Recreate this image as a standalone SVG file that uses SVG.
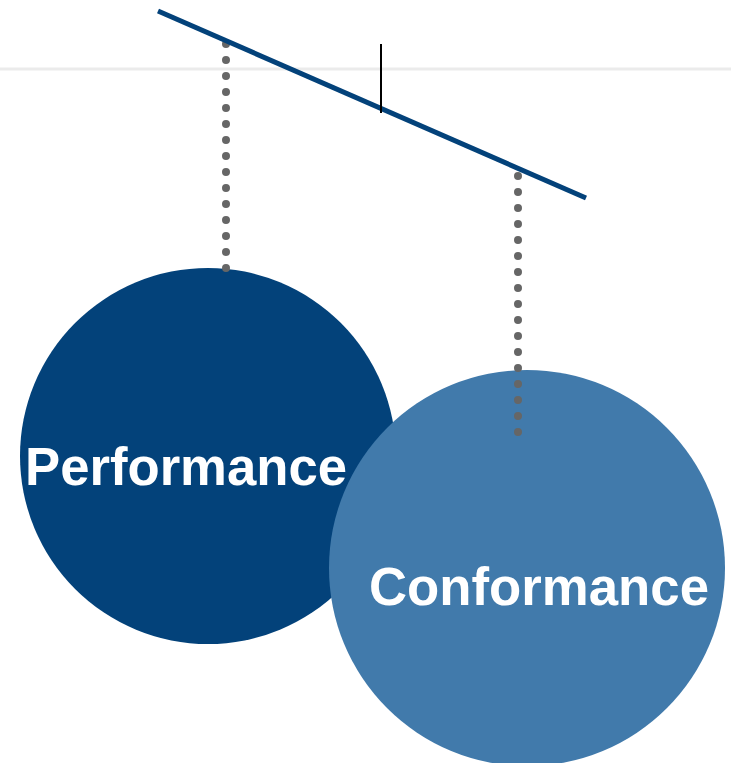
<svg xmlns="http://www.w3.org/2000/svg" width="731" height="763" viewBox="0 0 731 763">
<style>
.lbl{font-family:"Liberation Sans",Arial,sans-serif;font-weight:bold;font-size:53px;fill:#ffffff}
.dots{stroke:#666666;stroke-width:8;stroke-linecap:round;stroke-dasharray:0 16;fill:none}
</style>
<rect width="731" height="763" fill="#ffffff"/>
<line x1="0" y1="69" x2="731" y2="69" stroke="#ebebeb" stroke-width="3"/>
<g id="performance">
<circle cx="208" cy="456" r="188" fill="#03427a"/>
<text class="lbl" x="25" y="485" textLength="322" lengthAdjust="spacingAndGlyphs">Performance</text>
</g>
<g id="conformance">
<circle cx="527" cy="568" r="198" fill="#417aab"/>
<text class="lbl" x="369" y="605" textLength="340" lengthAdjust="spacingAndGlyphs">Conformance</text>
</g>
<g id="connectors">
<line class="dots" x1="226" y1="44" x2="226" y2="269"/>
<line class="dots" x1="518" y1="176" x2="518" y2="433"/>
<line x1="158" y1="11" x2="586" y2="198" stroke="#03427a" stroke-width="5"/>
<line x1="381" y1="44" x2="381" y2="113" stroke="#000000" stroke-width="2"/>
</g>
</svg>
